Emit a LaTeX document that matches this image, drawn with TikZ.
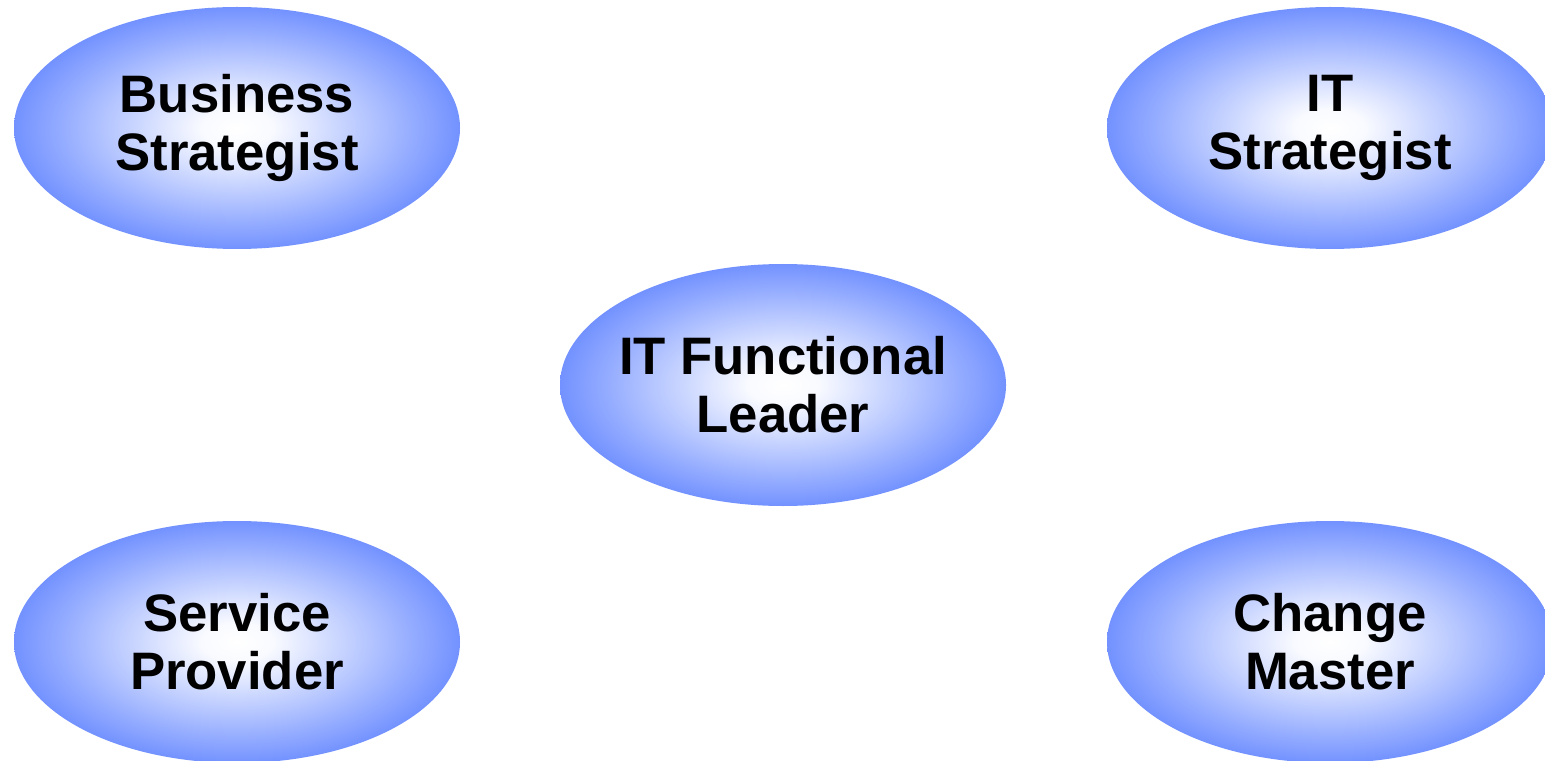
\documentclass[tikz,border=0pt]{standalone}
\usepackage{fontspec}
\setmainfont{Liberation Sans}
\usetikzlibrary{shapes.geometric}
\definecolor{rolefill}{HTML}{6688FF}
\pgfdeclareradialshading{roleshade}{\pgfpoint{0bp}{0bp}}{color(0bp)=(white); color(4bp)=(white!96!rolefill); color(27bp)=(rolefill); color(50bp)=(rolefill); color(100bp)=(rolefill)}
\tikzset{role/.style={ellipse, shading=roleshade, minimum width=8.92cm, minimum height=4.84cm, inner xsep=-1cm, inner ysep=0pt, align=center, font=\fontsize{30}{33}\selectfont\bfseries}}

\begin{document}
\begin{tikzpicture}
		%%%%% START %%%%%
		
		\useasboundingbox (0, 0) rectangle (30.9, -15.22);
		
		\node[role] (busstrat) at (4.74, -2.56) {Business\\Strategist};
		\node[role] (itstrat) at (26.6, -2.56) {IT\\Strategist};
		
		\node[role] (itlead) at (15.66, -7.7) {IT Functional\\Leader};
		
		\node[role] (servprov) at (4.74, -12.84) {Service\\Provider};
		\node[role] (changemst) at (26.6, -12.84) {Change\\Master};
		
		%%%%% END %%%%%
	\end{tikzpicture}
\end{document}
